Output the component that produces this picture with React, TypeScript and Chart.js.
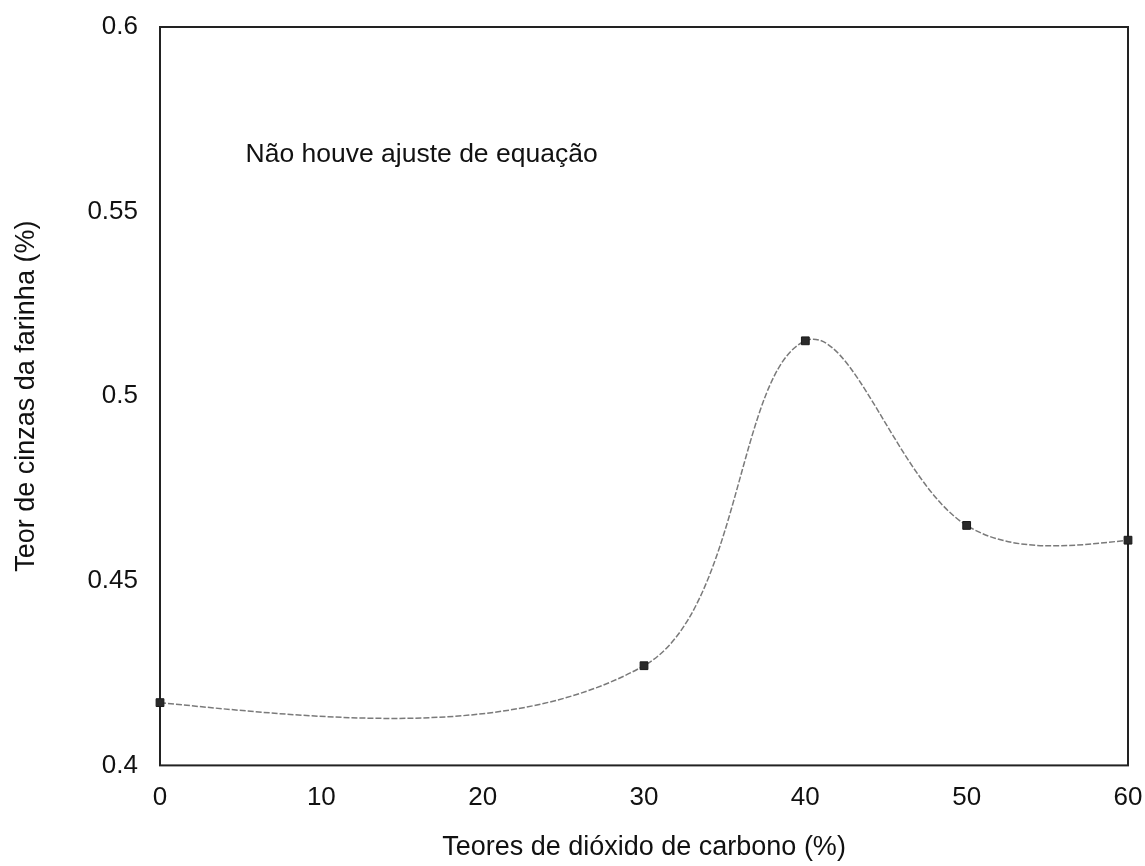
import React, { useEffect, useRef } from "react";
import { Chart, registerables } from "chart.js";

Chart.register(...registerables);

const xValues = [0, 30, 40, 50, 60];
const yValues = [0.417, 0.427, 0.515, 0.465, 0.461];
const xTicks = [0, 10, 20, 30, 40, 50, 60];
const yTicks = ["0.4", "0.45", "0.5", "0.55", "0.6"];
const annotationText = "Não houve ajuste de equação";
const annotationAt = { x: 5.3, y: 0.5655 };
const xTitle = "Teores de dióxido de carbono (%)";
const yTitle = "Teor de cinzas da farinha (%)";

const FONT = "'Liberation Sans', Arial, sans-serif";

export default function App() {
  const ref = useRef<HTMLCanvasElement>(null);
  useEffect(() => {
    if (!ref.current) return;
    const boxPlugin = {
      id: "boxAndNote",
      beforeDatasetsDraw(chart: any) {
        const { ctx, chartArea, scales } = chart;
        ctx.save();
        ctx.strokeStyle = "#222";
        ctx.lineWidth = 2;
        ctx.strokeRect(chartArea.left, chartArea.top, chartArea.right - chartArea.left, chartArea.bottom - chartArea.top);
        ctx.fillStyle = "#111";
        ctx.font = `26.5px ${FONT}`;
        ctx.textAlign = "left";
        ctx.textBaseline = "middle";
        ctx.fillText(annotationText, scales.x.getPixelForValue(annotationAt.x), scales.y.getPixelForValue(annotationAt.y));
        ctx.restore();
      },
      beforeDatasetDraw(chart: any, args: any) {
        const meta = args.meta;
        const line = meta.dataset;
        if (!line || !line.updateControlPoints) return;
        line.updateControlPoints(chart.chartArea, "x");
        const pts = meta.data;
        const n = pts.length;
        if (n < 3) return;
        const p0 = pts[0], p1 = pts[1];
        p0.cp2x = p0.x + (p1.cp1x - p0.x) / 2;
        p0.cp2y = p0.y + (p1.cp1y - p0.y) / 2;
        const pn = pts[n - 1], pm = pts[n - 2];
        pn.cp1x = pn.x + (pm.cp2x - pn.x) / 2;
        pn.cp1y = pn.y + (pm.cp2y - pn.y) / 2;
      },
    };
    const chart = new Chart(ref.current, {
      type: "line",
      data: {
        datasets: [
          {
            data: xValues.map((x, i) => ({ x, y: yValues[i] })),
            borderColor: "#7a7a7a",
            borderWidth: 1.5,
            borderDash: [6, 2],
            tension: 0.35,
            pointStyle: "rect",
            pointRadius: 5.5,
            pointBackgroundColor: "#2a2a2a",
            pointBorderColor: "#1a1a1a",
            pointBorderWidth: 1,
            fill: false,
            clip: false,
          },
        ],
      },
      options: {
        animation: false,
        responsive: false,
        maintainAspectRatio: false,
        layout: { padding: { left: 0, right: 17, top: 27, bottom: 2 } },
        plugins: { legend: { display: false }, tooltip: { enabled: false } },
        scales: {
          x: {
            type: "linear",
            min: 0,
            max: 60,
            afterBuildTicks: (axis: any) => {
              axis.ticks = xTicks.map((v) => ({ value: v }));
            },
            afterFit: (axis: any) => {
              axis.paddingLeft = 0;
              axis.paddingRight = 0;
            },
            grid: { display: false, drawTicks: false },
            border: { display: false },
            ticks: {
              color: "#111",
              font: { family: FONT, size: 26 },
              padding: 17,
              maxRotation: 0,
              callback: (v: any) => String(v),
            },
            title: {
              display: true,
              text: xTitle,
              color: "#111",
              font: { family: FONT, size: 27 },
              padding: { top: 1, bottom: 0 },
            },
          },
          y: {
            type: "linear",
            min: 0.4,
            max: 0.6,
            afterBuildTicks: (axis: any) => {
              axis.ticks = yTicks.map((v) => ({ value: parseFloat(v) }));
            },
            afterFit: (axis: any) => {
              axis.paddingTop = 0;
              axis.paddingBottom = 0;
            },
            grid: { display: false, drawTicks: false },
            border: { display: false },
            ticks: {
              color: "#111",
              font: { family: FONT, size: 26 },
              padding: 22,
              callback: (v: any) => {
                const s = yTicks.find((t) => Math.abs(parseFloat(t) - v) < 1e-9);
                return s ?? "";
              },
            },
            title: {
              display: true,
              text: yTitle,
              color: "#111",
              font: { family: FONT, size: 27 },
              padding: { top: 10, bottom: 23 },
            },
          },
        },
      },
      plugins: [boxPlugin],
    } as any);
    return () => chart.destroy();
  }, []);
  return (
    <div style={{ position: "fixed", left: 0, top: 0, width: 1145, height: 866, background: "#fff" }}>
      <canvas ref={ref} width={1145} height={866} style={{ width: 1145, height: 866, display: "block" }} />
    </div>
  );
}
